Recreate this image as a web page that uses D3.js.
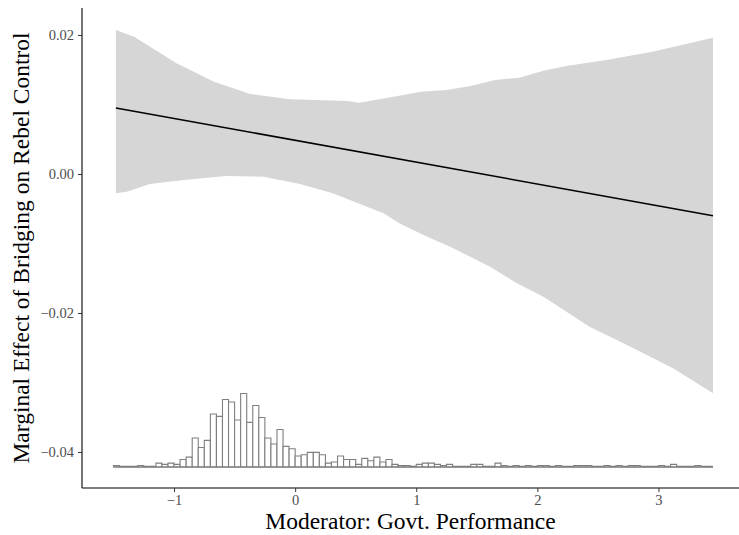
<!DOCTYPE html>
<html>
<head>
<meta charset="utf-8">
<script src="https://cdn.jsdelivr.net/npm/d3@7"></script>
<style>
	body { margin: 0; background: #fff; }
</style>
</head>
<body>
<div id="chart"></div>
<script>
/* global d3 */

// marginal effect line (moderator, estimate)
var lineX = [-1.48, 3.45],
	lineY = [0.0095, -0.0060];

// confidence band, upper edge
var upperX = [-1.48, -1.33, -0.98, -0.67, -0.37, -0.04, 0.43, 0.53, 0.79, 1.04, 1.25, 1.45, 1.65, 1.85, 2.05, 2.25, 2.57, 2.95, 3.45],
	upperY = [0.0207, 0.01976, 0.01593, 0.01328, 0.01151, 0.01075, 0.0105, 0.01026, 0.01104, 0.01184, 0.01209, 0.01266, 0.01353, 0.01386, 0.01486, 0.01558, 0.0164, 0.0176, 0.01961];

// confidence band, lower edge
var lowerX = [-1.48, -1.39, -1.20, -0.92, -0.57, -0.26, 0.04, 0.31, 0.73, 0.86, 1.09, 1.28, 1.61, 1.83, 2.05, 2.43, 2.74, 3.12, 3.45],
	lowerY = [-0.00278, -0.00255, -0.00144, -0.00086, -0.00029, -0.00039, -0.00144, -0.00278, -0.00565, -0.00709, -0.00902, -0.01046, -0.01334, -0.01573, -0.01766, -0.02197, -0.0246, -0.02795, -0.03155];

// histogram of the moderator: 99 bins of width 0.05 starting at -1.5
var histStart = -1.5,
	histWidth = 0.05,
	histCounts = [
		1, 0, 0, 0, 1, 0, 0, 3, 2, 3,
		2, 6, 8, 24, 16, 22, 44, 42, 56, 54,
		39, 61, 37, 51, 41, 24, 19, 31, 17, 15,
		9, 10, 12, 12, 10, 3, 4, 9, 6, 6,
		2, 7, 5, 8, 4, 6, 2, 1, 1, 0,
		2, 3, 3, 2, 1, 2, 0, 0, 0, 2,
		2, 0, 0, 3, 1, 0, 1, 0, 1, 0,
		1, 1, 0, 1, 0, 0, 1, 1, 1, 0,
		0, 1, 0, 1, 0, 1, 1, 0, 0, 0,
		1, 0, 2, 0, 0, 0, 1, 0, 0
	];

var xTicks = [-1, 0, 1, 2, 3],
	yTicks = [0.02, 0, -0.02, -0.04];

var xTitle = "Moderator: Govt. Performance",
	yTitle = "Marginal Effect of Bridging on Rebel Control";

(function() {
	'use strict';

	var W = 739,
		H = 535,
		panel = { left: 82, right: 739, top: 8, bottom: 488 },
		histBase = -0.04212,
		pxPerCount = 1.2,
		serif = "'Liberation Serif', 'Times New Roman', serif",
		tickColor = "#4d4d4d";

	var x = d3.scaleLinear()
			.domain([-1.76, 3.665])
			.range([panel.left, panel.right]),
		y = d3.scaleLinear()
			.domain([-0.04518, 0.02388])
			.range([panel.bottom, panel.top]),
		yHist = d3.scaleLinear()
			.domain([0, 1])
			.range([y(histBase), y(histBase) - pxPerCount]),
		line = d3.line()
			.x(function(d) { return x(d[0]); })
			.y(function(d) { return y(d[1]); });

	var svg = d3.select("#chart").append("svg")
		.attr("width", W)
		.attr("height", H);

	// confidence band: upper edge forward, lower edge back
	var band = upperX.map(function(d, i) { return [d, upperY[i]]; })
		.concat(lowerX.map(function(d, i) { return [d, lowerY[i]]; }).reverse());

	svg.append("path")
		.datum(band)
		.attr("fill", "#d6d6d6")
		.attr("stroke", "none")
		.attr("d", function(d) { return line(d) + "Z"; });

	svg.append("path")
		.datum(lineX.map(function(d, i) { return [d, lineY[i]]; }))
		.attr("fill", "none")
		.attr("stroke", "#000")
		.attr("stroke-width", 1.5)
		.attr("d", line);

	// histogram
	var hist = svg.append("g")
		.attr("fill", "#fff")
		.attr("stroke", "#7f7f7f")
		.attr("stroke-width", 1.1);

	hist.append("line")
		.attr("x1", x(histStart))
		.attr("x2", x(histStart + histWidth * histCounts.length))
		.attr("y1", yHist(0))
		.attr("y2", yHist(0))
		.attr("stroke-width", 1.8);

	hist.selectAll("path.bin")
		.data(histCounts)
		.join("path")
		.attr("class", "bin")
		.attr("d", function(d, i) {
			var x0 = x(histStart + i * histWidth),
				x1 = x(histStart + (i + 1) * histWidth),
				b = yHist(0),
				t = yHist(d);
			return "M" + x0 + "," + b + "V" + t + "H" + x1 + "V" + b + "Z";
		});

	// axes
	var xAxis = svg.append("g")
		.attr("transform", "translate(0," + panel.bottom + ")")
		.call(d3.axisBottom(x)
			.tickValues(xTicks)
			.tickSize(4)
			.tickPadding(3)
			.tickFormat(d3.format("d")));
	xAxis.select(".domain").attr("d", "M" + panel.left + ",0H" + panel.right).attr("stroke-width", 1.1);

	var yAxis = svg.append("g")
		.attr("transform", "translate(" + panel.left + ",0)")
		.call(d3.axisLeft(y)
			.tickValues(yTicks)
			.tickSize(4)
			.tickPadding(4)
			.tickFormat(d3.format(".2f")));
	yAxis.select(".domain").attr("d", "M0," + panel.top + "V" + panel.bottom).attr("stroke-width", 1.1);

	svg.selectAll(".tick text")
		.attr("fill", tickColor)
		.style("font-size", "14.5px")
		.style("font-family", serif);
	svg.selectAll(".tick line").attr("stroke", "#333");

	svg.append("text")
		.attr("x", (panel.left + panel.right) / 2)
		.attr("y", 529)
		.attr("text-anchor", "middle")
		.attr("fill", "#000")
		.style("font-family", serif)
		.style("font-size", "23.5px")
		.text(xTitle);

	svg.append("text")
		.attr("transform", "translate(29," + (panel.top + panel.bottom) / 2 + ") rotate(-90)")
		.attr("text-anchor", "middle")
		.attr("fill", "#000")
		.style("font-family", serif)
		.style("font-size", "23.5px")
		.text(yTitle);
})();
</script>
</body>
</html>
